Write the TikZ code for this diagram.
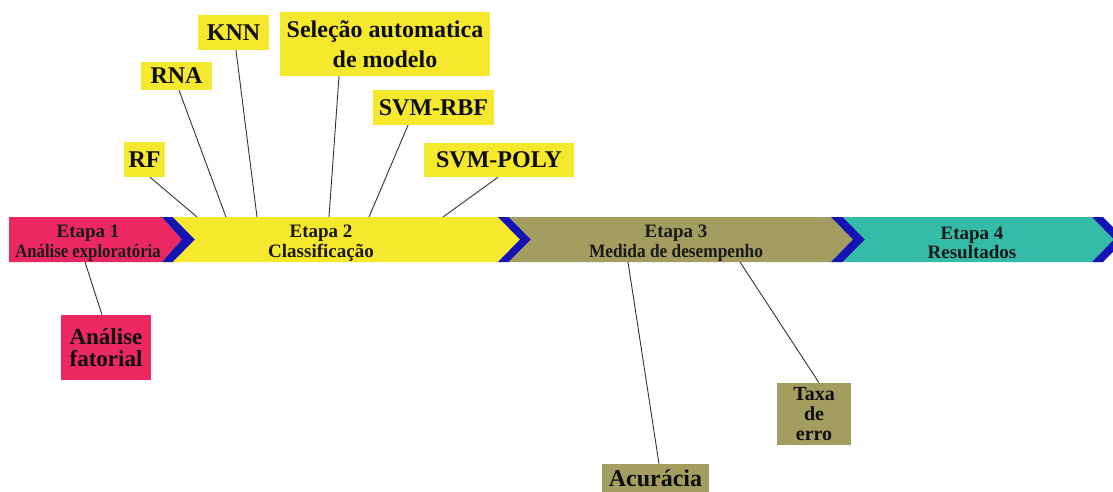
\documentclass[tikz,border=0pt]{standalone}
\usepackage{fontspec}
\setmainfont{Liberation Serif}
\usetikzlibrary{calc}
\definecolor{cpink}{RGB}{236,40,98}
\definecolor{cyellow}{RGB}{246,232,45}
\definecolor{colive}{RGB}{164,157,96}
\definecolor{cteal}{RGB}{52,188,168}
\definecolor{cblue}{RGB}{20,20,180}
\tikzset{
  stagetext/.style={inner sep=0pt, align=center, text=black!90, font=\fontsize{19}{19.5}\selectfont\bfseries},
  lab/.style={inner sep=0pt, align=center, text=black!95, font=\fontsize{24}{24}\selectfont\bfseries},
  conn/.style={draw=black!80, line width=0.9pt},
}
\begin{document}
\begin{tikzpicture}[x=1pt,y=-1pt]
\useasboundingbox (0,0) rectangle (1113,491);
\clip (0,0) rectangle (1113,491);
\fill[white] (0,0) rectangle (1113,491);
% band
\fill[cpink] (9,217) -- (162,217) -- (182,239.5) -- (162,262) -- (9,262) -- cycle;
\fill[cblue] (162,217) -- (173,217) -- (195,239.5) -- (173,262) -- (162,262) -- (182,239.5) -- cycle;
\fill[cyellow] (173,217) -- (498,217) -- (520,239.5) -- (498,262) -- (173,262) -- (195,239.5) -- cycle;
\fill[cblue] (498,217) -- (509,217) -- (531,239.5) -- (509,262) -- (498,262) -- (520,239.5) -- cycle;
\fill[colive] (509,217) -- (831,217) -- (853,239.5) -- (831,262) -- (509,262) -- (531,239.5) -- cycle;
\fill[cblue] (831,217) -- (843,217) -- (865,239.5) -- (843,262) -- (831,262) -- (853,239.5) -- cycle;
\fill[cteal] (843,217) -- (1092,217) -- (1114,239.5) -- (1092,262) -- (843,262) -- (865,239.5) -- cycle;
\fill[cblue] (1092,217) -- (1103,217) -- (1125,239.5) -- (1103,262) -- (1092,262) -- (1114,239.5) -- cycle;
% stage texts
\node[stagetext] (t1) at (88,243) {Etapa 1\\\scalebox{0.88}[1]{Análise exploratória}};
\node[stagetext] (t2) at (321,243) {Etapa 2\\Classificação};
\node[stagetext] (t3) at (676,243) {Etapa 3\\\scalebox{0.91}[1]{Medida de desempenho}};
\node[stagetext] (t4) at (972,243) {Etapa 4\\Resultados};
% attachment points on the band
\coordinate (pRF) at (197,217);
\coordinate (pRNA) at (226,217);
\coordinate (pKNN) at (257,217);
\coordinate (pSEL) at (329,217);
\coordinate (pRBF) at (369,217);
\coordinate (pPOLY) at (443,217);
\coordinate (pAF) at (85,262);
\coordinate (pACU) at (628,262);
\coordinate (pTAXA) at (740,262);
% labels
\node[lab, fill=cyellow, minimum width=41, minimum height=35] (rf) at (144.5,159.5) {RF};
\node[lab, fill=cyellow, minimum width=71, minimum height=28] (rna) at (176.5,76) {RNA};
\node[lab, fill=cyellow, minimum width=71, minimum height=35] (knn) at (233.5,32.5) {KNN};
\node[lab, fill=cyellow, minimum width=210, minimum height=64, font=\fontsize{24}{30}\selectfont\bfseries] (sel) at (385,44) {Seleção automatica\\de modelo};
\node[lab, fill=cyellow, minimum width=121, minimum height=35] (rbf) at (433.5,107.5) {SVM-RBF};
\node[lab, fill=cyellow, minimum width=150, minimum height=34] (poly) at (499,160) {SVM-POLY};
\node[lab, fill=cpink, minimum width=90, minimum height=65, font=\fontsize{23}{21.5}\selectfont\bfseries] (af) at (106,347.5) {Análise\\fatorial};
\node[lab, fill=colive, minimum width=107, minimum height=28] (acu) at (655.5,478) {Acurácia};
\node[lab, fill=colive, minimum width=74, minimum height=62, font=\fontsize{20}{20}\selectfont\bfseries] (taxa) at (814,414) {Taxa\\de\\erro};
% connectors
\draw[conn] ([xshift=5.5pt]rf.south) -- (pRF);
\draw[conn] ([xshift=2.5pt]rna.south) -- (pRNA);
\draw[conn] ([xshift=2.5pt]knn.south) -- (pKNN);
\draw[conn] ([xshift=-46pt]sel.south) -- (pSEL);
\draw[conn] ([xshift=-25.5pt]rbf.south) -- (pRBF);
\draw[conn] ([xshift=-1pt]poly.south) -- (pPOLY);
\draw[conn] (pAF) -- ([xshift=-4pt]af.north);
\draw[conn] (pACU) -- ([xshift=3.5pt]acu.north);
\draw[conn] (pTAXA) -- ([xshift=5pt]taxa.north);
\end{tikzpicture}
\end{document}
